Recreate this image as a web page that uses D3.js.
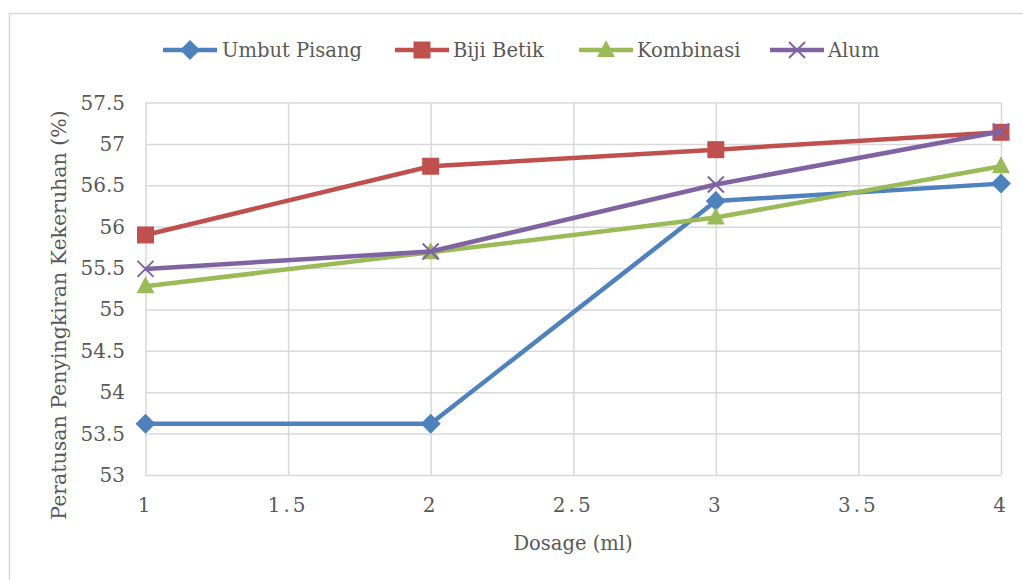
<!DOCTYPE html>
<html>
<head>
<meta charset="utf-8">
<script src="https://cdnjs.cloudflare.com/ajax/libs/d3/7.8.5/d3.min.js"></script>
<style>
  body { margin: 0; background: #fff; }
  svg text { font-family: "DejaVu Serif", serif; fill: #595959; }
</style>
</head>
<body>
<svg id="chart" width="1023" height="580"></svg>
<script>
const dosages = [1, 2, 3, 4];
const umbutPisang = [53.62, 53.62, 56.31, 56.52];
const bijiBetik = [55.9, 56.73, 56.93, 57.14];
const kombinasi = [55.28, 55.69, 56.11, 56.73];
const alum = [55.49, 55.70, 56.51, 57.15];
const xTicks = [1, 1.5, 2, 2.5, 3, 3.5, 4];
const yTicks = [53, 53.5, 54, 54.5, 55, 55.5, 56, 56.5, 57, 57.5];

const seriesList = [
  { name: "Umbut Pisang", values: umbutPisang, color: "#4f81bd", marker: "diamond" },
  { name: "Biji Betik", values: bijiBetik, color: "#c0504d", marker: "square" },
  { name: "Kombinasi", values: kombinasi, color: "#9bbb59", marker: "triangle" },
  { name: "Alum", values: alum, color: "#8064a2", marker: "cross" }
];

const svg = d3.select("#chart");
const plot = { left: 145.5, right: 1001, top: 102.5, bottom: 475 };

// chart frame
svg.append("rect")
  .attr("x", 9.5).attr("y", 13.5)
  .attr("width", 1040).attr("height", 600)
  .attr("fill", "none").attr("stroke", "#d9d9d9").attr("stroke-width", 1.5);

const x = d3.scaleLinear().domain([1, 4]).range([plot.left, plot.right]);
const y = d3.scaleLinear().domain([53, 57.5]).range([plot.bottom, plot.top]);

// gridlines
svg.append("g")
  .attr("transform", `translate(0,${plot.bottom})`)
  .call(d3.axisBottom(x).tickValues(xTicks).tickSize(-(plot.bottom - plot.top)).tickFormat(""))
  .call(g => g.select(".domain").remove())
  .selectAll("line").attr("stroke", "#d9d9d9").attr("stroke-width", 1.5);

svg.append("g")
  .attr("transform", `translate(${plot.left},0)`)
  .call(d3.axisLeft(y).tickValues(yTicks).tickSize(-(plot.right - plot.left)).tickFormat(""))
  .call(g => g.select(".domain").remove())
  .selectAll("line").attr("stroke", "#d9d9d9").attr("stroke-width", 1.5);

// tick labels
svg.append("g").selectAll("text")
  .data(yTicks).enter().append("text")
  .attr("x", 125).attr("y", d => y(d))
  .attr("dy", "0.35em")
  .attr("text-anchor", "end")
  .style("font-size", "20px")
  .text(d => d);

svg.append("g").selectAll("text")
  .data(xTicks).enter().append("text")
  .attr("x", d => x(d)).attr("y", 512)
  .attr("text-anchor", "middle")
  .style("font-size", "20px")
  .style("letter-spacing", "3px")
  .text(d => d);

// axis titles
svg.append("text")
  .attr("x", 573).attr("y", 550)
  .attr("text-anchor", "middle")
  .style("font-size", "19.5px")
  .text("Dosage (ml)");

svg.append("text")
  .attr("transform", "translate(66,315) rotate(-90)")
  .attr("text-anchor", "middle")
  .style("font-size", "20.5px")
  .text("Peratusan Penyingkiran Kekeruhan (%)");

function drawMarker(g, type, color) {
  if (type === "diamond") {
    g.append("path").attr("d", "M0,-10L10,0L0,10L-10,0Z").attr("fill", color);
  } else if (type === "square") {
    g.append("rect").attr("x", -8.5).attr("y", -8.5).attr("width", 17).attr("height", 17).attr("fill", color);
  } else if (type === "triangle") {
    g.append("path").attr("d", "M0,-10L9,7L-9,7Z").attr("fill", color);
  } else {
    g.append("path").attr("d", "M-8,-8L8,8M-8,8L8,-8")
      .attr("stroke", color).attr("stroke-width", 2).attr("fill", "none");
  }
}

const line = d3.line().x((d, i) => x(dosages[i])).y(d => y(d));

seriesList.forEach(s => {
  svg.append("path")
    .datum(s.values)
    .attr("d", line)
    .attr("fill", "none")
    .attr("stroke", s.color)
    .attr("stroke-width", 4.5)
    .attr("stroke-linejoin", "round");

  s.values.forEach((v, i) => {
    const g = svg.append("g").attr("transform", `translate(${x(dosages[i])},${y(v)})`);
    drawMarker(g, s.marker, s.color);
  });
});

// legend
const legendItems = [
  { lx: 163, tx: 222 },
  { lx: 395, tx: 453 },
  { lx: 579, tx: 637 },
  { lx: 770, tx: 828 }
];
seriesList.forEach((s, i) => {
  const it = legendItems[i];
  svg.append("line")
    .attr("x1", it.lx).attr("x2", it.lx + 54)
    .attr("y1", 50).attr("y2", 50)
    .attr("stroke", s.color).attr("stroke-width", 4.5);
  const g = svg.append("g").attr("transform", `translate(${it.lx + 27},50)`);
  drawMarker(g, s.marker, s.color);
  svg.append("text")
    .attr("x", it.tx).attr("y", 50)
    .attr("dy", "0.35em")
    .style("font-size", "19.5px")
    .text(s.name);
});
</script>
</body>
</html>
